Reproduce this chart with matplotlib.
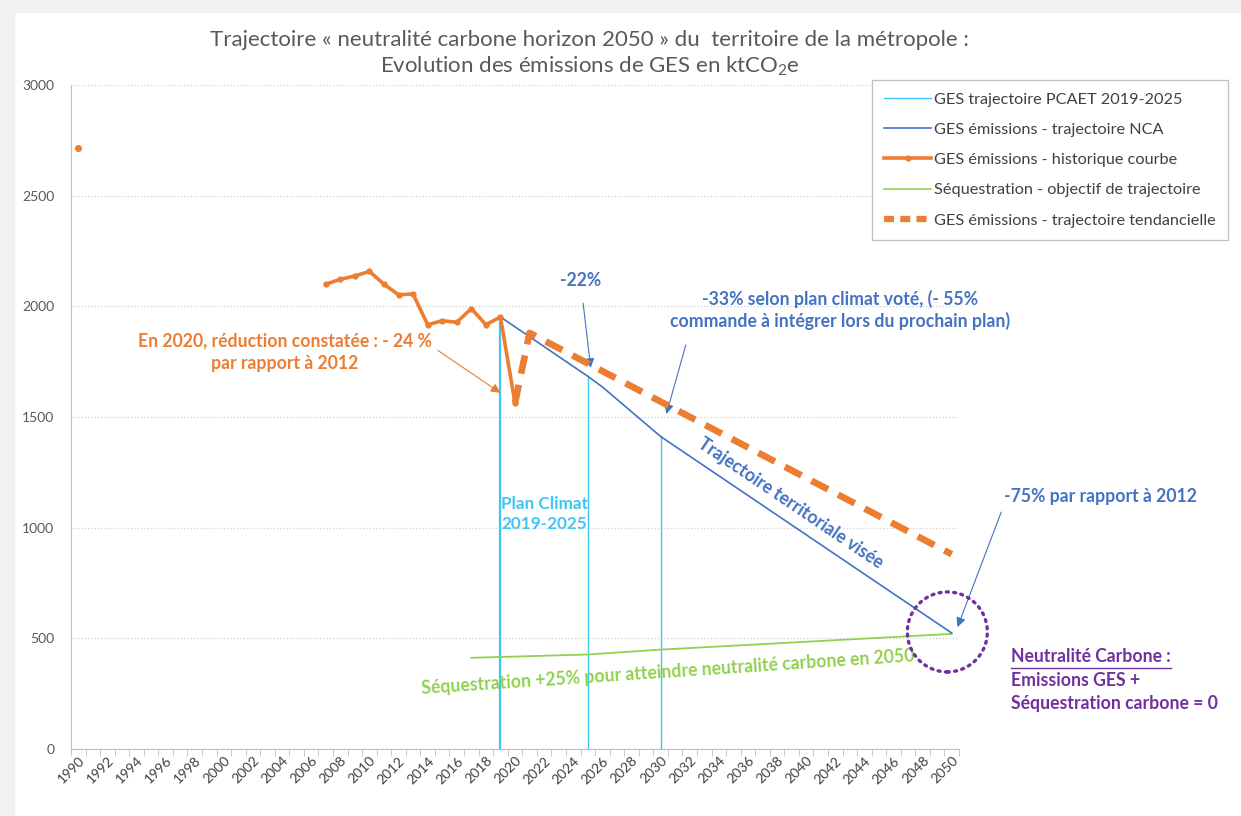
import numpy as np
import matplotlib
matplotlib.use('Agg')
import matplotlib.pyplot as plt
from matplotlib.patches import Ellipse, Rectangle
from matplotlib.lines import Line2D

plt.rcParams['font.family'] = ['Lato', 'DejaVu Sans']
plt.rcParams['mathtext.fontset'] = 'custom'
plt.rcParams['mathtext.rm'] = 'Lato'

W, H = 1241, 816

# données (ktCO2e)
hist_years = [1990, 2006, 2007, 2008, 2009, 2010, 2011, 2012, 2013, 2014,
              2015, 2016, 2017, 2018, 2019, 2020]
hist_vals = [2715, np.nan, 2100, 2122, 2137, 2158, 2100, 2052, 2056, 1917,
             1935, 1928, 1990, 1917, 1952, 1563]
nca_years = [2019, 2025, 2026, 2030, 2050]
nca_vals = [1952, 1684, 1636, 1412, 524]
tend_years = [2020, 2021, 2050]
tend_vals = [1563, 1880, 880]
seq_years = [2017, 2025, 2030, 2050]
seq_vals = [412, 427, 449, 520]
pcaet_years = [2019, 2025, 2030]
pcaet_vals = [1952, 1684, 1412]

ORANGE = '#ED7D31'
BLUE = '#4472C4'
CYAN = '#3EC6F2'
GREEN = '#92D050'
PURPLE = '#7030A0'
GREY = '#595959'


def fx(x):
    return x / W


def fy(y):
    return 1 - y / H


fig = plt.figure(figsize=(W / 100, H / 100), dpi=100)
fig.patches.append(Rectangle((0, 0), fx(14), 1, transform=fig.transFigure,
                             color='#F1F1F1', zorder=-10))
fig.patches.append(Rectangle((0, fy(12)), 1, 12 / H, transform=fig.transFigure,
                             color='#F1F1F1', zorder=-10))

ax = fig.add_axes([fx(71), fy(749), fx(959) - fx(71), fy(85) - fy(749)])
ax.set_xlim(1989.5, 2050.5)
ax.set_ylim(0, 3000)

# lignes verticales PCAET
for i, (yr, v) in enumerate(zip(pcaet_years, pcaet_vals)):
    ax.plot([yr, yr], [0, v], color=CYAN, lw=1.6 if i == 0 else 1.0, zorder=2)

ax.plot(seq_years, seq_vals, color=GREEN, lw=1.3, zorder=3)
ax.plot(nca_years, nca_vals, color=BLUE, lw=1.2, zorder=3)
ax.plot(tend_years, tend_vals, color=ORANGE, lw=4.8, dashes=(2.8, 1.7),
        zorder=4)
ax.plot(hist_years, hist_vals, color=ORANGE, lw=2.6, marker='o', ms=3.5,
        zorder=5)
ax.plot(hist_years[:1], hist_vals[:1], 'o', color=ORANGE, ms=4, zorder=5)

# axes
ax.set_yticks(range(0, 3001, 500))
ax.yaxis.grid(True, color='#D0D0D0', ls=':', lw=0.9)
ax.set_axisbelow(True)
ax.set_xticks(range(1990, 2051, 2))
ax.set_xticks(np.arange(1989.5, 2051, 1), minor=True)
ax.tick_params(axis='x', which='major', length=0, labelsize=10, labelcolor='#404040',
               pad=4)
ax.tick_params(axis='x', which='minor', length=5, color='#BFBFBF', direction='out')
ax.tick_params(axis='y', length=0, labelsize=10, labelcolor=GREY, pad=12)
for lab in ax.get_xticklabels():
    lab.set_rotation(45)
    lab.set_ha('right')
    lab.set_va('top')
    lab.set_rotation_mode('anchor')
for s in ['top', 'right']:
    ax.spines[s].set_visible(False)
for s in ['left', 'bottom']:
    ax.spines[s].set_color('#BFBFBF')

# titre
fig.text(fx(589), fy(40), "Trajectoire « neutralité carbone horizon 2050 » du  territoire de la métropole :",
         ha='center', va='center', fontsize=16, color=GREY)
fig.text(fx(590), fy(66), r"Evolution des émissions de GES en ktCO$_\mathregular{2}$e",
         ha='center', va='center', fontsize=16, color=GREY)

# annotations
FS = 12.7
arrow_kw = dict(arrowstyle='-|>', lw=0.8, mutation_scale=14)
ax.annotate("En 2020, réduction constatée : - 24 %\npar rapport à 2012",
            xy=(2019.0, 1609), xytext=(2004.2, 1792), ha='center', va='center',
            color=ORANGE, fontsize=FS, fontweight='bold', linespacing=1.4,
            arrowprops=dict(color=ORANGE, shrinkA=0, shrinkB=0,
                            relpos=(1.02, 0.55), **arrow_kw))
ax.annotate("-22%", xy=(2025.2, 1722), xytext=(2024.5, 2115), ha='center',
            va='center', color=BLUE, fontsize=FS, fontweight='bold',
            arrowprops=dict(color=BLUE, shrinkA=8, shrinkB=0, **arrow_kw))
ax.annotate("-33% selon plan climat voté, (- 55%\ncommande à intégrer lors du prochain plan)",
            xy=(2030.4, 1514), xytext=(2042.3, 1984), ha='center', va='center',
            color=BLUE, fontsize=FS, fontweight='bold', linespacing=1.3,
            arrowprops=dict(color=BLUE, shrinkA=9, shrinkB=0,
                            relpos=(0.06, 0.0), **arrow_kw))
ax.annotate("-75% par rapport à 2012", xy=(2050.4, 551), xytext=(2060.2, 1139),
            ha='center', va='center', color=BLUE, fontsize=FS, fontweight='bold',
            annotation_clip=False,
            arrowprops=dict(color=BLUE, shrinkA=3, shrinkB=0,
                            relpos=(0.0, 0.0), **arrow_kw))
ax.text(2038.9, 1112, "Trajectoire territoriale visée", rotation=-34,
        ha='center', va='center', color=BLUE, fontsize=FS, fontweight='bold')
ax.text(2022.0, 1062, "Plan Climat\n2019-2025", ha='center', va='center',
        color=CYAN, fontsize=12.3, fontweight='bold', linespacing=1.3)
ax.text(2030.5, 348, "Séquestration +25% pour atteindre neutralité carbone en 2050",
        rotation=3.8, ha='center', va='center', color=GREEN, fontsize=FS,
        fontweight='bold')

circ = Ellipse((2049.7, 529), 80 / 14.557, 80 / 0.2213, fill=False,
               edgecolor=PURPLE, lw=2.4, ls=(0, (0.6, 1.6)), clip_on=False,
               zorder=6)
circ.set_capstyle('round')
ax.add_patch(circ)

t1 = fig.text(fx(1011), fy(657), "Neutralité Carbone :", ha='left', va='center',
              color=PURPLE, fontsize=FS, fontweight='bold')
fig.text(fx(1011), fy(680), "Emissions GES +", ha='left', va='center',
         color=PURPLE, fontsize=FS, fontweight='bold')
fig.text(fx(1011), fy(703), "Séquestration carbone = 0", ha='left', va='center',
         color=PURPLE, fontsize=FS, fontweight='bold')

# légende
handles = [
    Line2D([], [], color=CYAN, lw=1.0),
    Line2D([], [], color=BLUE, lw=1.2),
    Line2D([], [], color=ORANGE, lw=2.6, marker='o', ms=3.5),
    Line2D([], [], color=GREEN, lw=1.2),
    Line2D([], [], color=ORANGE, lw=4.5, dashes=(1.6, 1.0)),
]
labels = ["GES trajectoire PCAET 2019-2025", "GES émissions - trajectoire NCA",
          "GES émissions - historique courbe",
          "Séquestration - objectif de trajectoire",
          "GES émissions - trajectoire tendancielle"]
leg = fig.legend(handles, labels, loc='upper left',
                 bbox_to_anchor=(fx(872), fy(80)), fontsize=11.7,
                 handlelength=2.9, labelspacing=0.98, handletextpad=0.15,
                 borderpad=0.75, borderaxespad=0, fancybox=False,
                 edgecolor='#BFBFBF', framealpha=1)
leg.get_frame().set_linewidth(0.9)
for t in leg.get_texts():
    t.set_color('#404040')

# soulignement
fig.canvas.draw()
bb = t1.get_window_extent()
fig.add_artist(Line2D([bb.x0 / W, bb.x1 / W], [(bb.y0 - 2) / H, (bb.y0 - 2) / H],
                      transform=fig.transFigure, color=PURPLE, lw=1.0))

fig.savefig('out.png', dpi=100)
